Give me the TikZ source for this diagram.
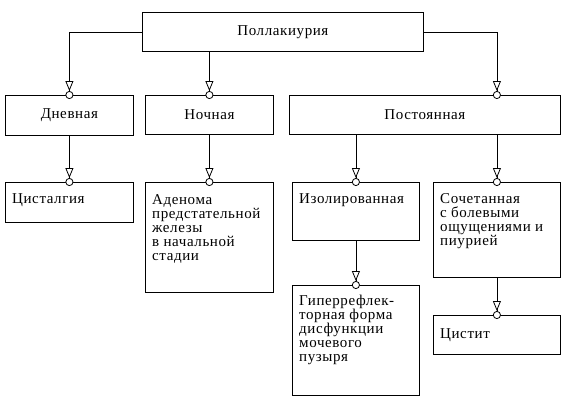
\documentclass[tikz,border=0pt]{standalone}
\usepackage{fontspec}
\setmainfont[LetterSpace=4]{Liberation Serif}
\usetikzlibrary{arrows.meta,calc}
\begin{document}
\begin{tikzpicture}[x=1pt,y=-1pt,
  box/.style={draw, line width=0.8pt, inner sep=0pt, anchor=north west,
    font=\fontsize{15}{14}\selectfont},
  lbl/.style={inner sep=0pt, anchor=base west, font=\fontsize{15}{14.2}\selectfont},
  conn/.style={line width=0.8pt, shorten >=-4pt,
    -{Triangle[length=10pt,width=8pt,fill=white,sep=0pt] Circle[length=8pt,width=8pt,fill=white]}}
]
\useasboundingbox (0,0) rectangle (570,408);
% row 1
\node[box, minimum width=281pt, minimum height=39pt] (top) at (142,12) {Поллакиурия};
% row 2
\node[box, minimum width=128pt, minimum height=40pt] (day) at (5,95) {Дневная};
\node[box, minimum width=128pt, minimum height=39pt] (night) at (145,95) {Ночная};
\node[box, minimum width=271pt, minimum height=39pt] (const) at (289,95) {Постоянная};
% row 3
\node[box, minimum width=128pt, minimum height=40pt] (cyst) at (5,182) {};
\node[box, minimum width=128pt, minimum height=110pt] (aden) at (145,182) {};
\node[box, minimum width=127pt, minimum height=58pt] (iso) at (292,182) {};
\node[box, minimum width=127pt, minimum height=95pt] (comb) at (433,182) {};
% row 4
\node[box, minimum width=127pt, minimum height=110pt] (hyper) at (292,285) {};
\node[box, minimum width=127pt, minimum height=39pt] (cystit) at (433,315) {};
% texts
\node[lbl] (cystT) at ($(cyst.north west)+(7,21)$) {\parbox[t]{120pt}{\raggedright Цисталгия}};
\node[lbl] (adenT) at ($(aden.north west)+(7,22)$) {\parbox[t]{125pt}{\raggedright Аденома\\предстательной\\железы\\в начальной\\стадии}};
\node[lbl] (isoT) at ($(iso.north west)+(7,21)$) {\parbox[t]{125pt}{\raggedright Изолированная}};
\node[lbl] (combT) at ($(comb.north west)+(7,21)$) {\parbox[t]{125pt}{\raggedright Сочетанная\\с болевыми\\ощущениями и\\пиурией}};
\node[lbl] (hyperT) at ($(hyper.north west)+(7,20)$) {\parbox[t]{125pt}{\raggedright Гиперрефлек-\\торная форма\\дисфункции\\мочевого\\пузыря}};
\node[lbl] (cystitT) at ($(cystit.north west)+(7,23)$) {\parbox[t]{120pt}{\raggedright Цистит}};
% connectors
\draw[conn] (top.west) -| (day.north);
\draw[conn] (top.south -| night.north) -- (night.north);
\draw[conn] (top.east) -| (comb.north |- const.north);
\draw[conn] (day.south) -- (cyst.north);
\draw[conn] (night.south) -- (aden.north);
\draw[conn] (const.south -| iso.north) -- (iso.north);
\draw[conn] (const.south -| comb.north) -- (comb.north);
\draw[conn] (iso.south) -- (hyper.north);
\draw[conn] (comb.south) -- (cystit.north);
\end{tikzpicture}
\end{document}
